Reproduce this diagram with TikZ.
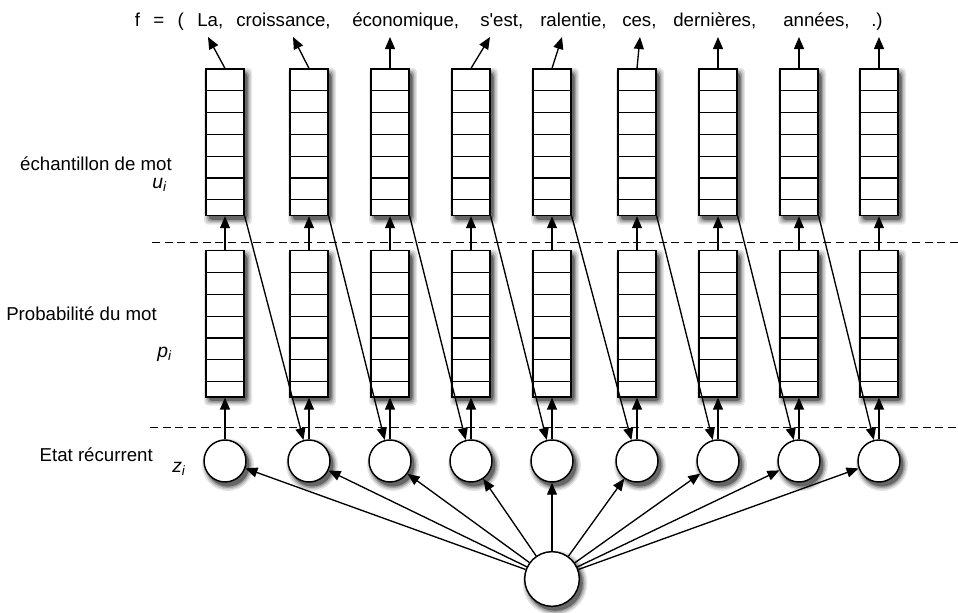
\documentclass[tikz,border=0pt]{standalone}
\usepackage{fontspec}
\setmainfont{Liberation Sans}
\usepackage{tikz}
\usetikzlibrary{positioning,arrows.meta}
\tikzset{
  cellbox/.style={rectangle, draw, fill=white, line width=1.1pt, minimum width=28.5pt, minimum height=109.8pt, inner sep=0pt},
  state/.style={circle, draw, fill=white, line width=1.1pt, minimum size=31.5pt, inner sep=0pt},
  source/.style={state, minimum size=41pt},
  fwd/.style={-{Triangle[length=9pt,width=7.5pt]}, line width=1pt},
  sepline/.style={dashed, dash pattern=on 6pt off 3.5pt, line width=0.9pt},
  word/.style={anchor=base west, inner sep=0pt},
  lab/.style={anchor=base east, inner sep=0pt},
  sym/.style={anchor=base west, inner sep=0pt, font=\fontsize{14.5}{17}\selectfont\itshape},
}

\begin{document}
\begin{tikzpicture}[x=0.75pt, y=-0.75pt, font=\fontsize{14}{17}\selectfont]
  \useasboundingbox (0,0) rectangle (958,612);

  % sentence f
  \node[anchor=base east, inner sep=0pt] (f) at (184,26) {f\hspace{10pt}=\hspace{10pt}(};
  \foreach \i/\wx/\w in {1/197/{La,}, 2/236/{croissance,}, 3/352/{économique,},
      4/480/{s\textquotesingle est,}, 5/540/{ralentie,}, 6/622/{ces,},
      7/673/{dernières,}, 8/783/{années,}, 9/871/{.)}}
    \node[word] (w\i) at (\wx,26) {\w};

  % layer names
  \node[lab] (samplelab) at (172,170) {échantillon de mot};
  \node[sym] (ulab) at (152,188) {u\textsubscript{i}};
  \node[lab] (problab) at (157,320) {Probabilité du mot};
  \node[sym] (plab) at (157,357) {p\textsubscript{i}};
  \node[lab] (statelab) at (153,461) {Etat récurrent};
  \node[sym] (zlab) at (172,472) {z\textsubscript{i}};

  \draw[sepline] (152,242.5) -- (958,242.5);
  \draw[sepline] (150,427.5) -- (958,427.5);

  % columns
  \foreach \i/\x/\tx in {1/225/208, 2/309/293, 3/390/390, 4/471/490, 5/552/562,
      6/637/640, 7/718/718, 8/799/799, 9/879/879} {
    % soft shadows
    \foreach \s/\g in {5/10, 3.5/22, 2/38, 0.5/60} {
      \fill[black!\g, rounded corners=3pt] (\x-19-\s+3,69-\s+4) rectangle (\x+19+\s+3,215.7+\s+4);
      \fill[black!\g, rounded corners=3pt] (\x-19-\s+3,250.7-\s+4) rectangle (\x+19+\s+3,396.7+\s+4);
      \fill[black!\g] (\x+3,465) circle [radius=15.75pt+0.75pt*\s];
    }
    \node[cellbox] (u\i) at (\x,142.3) {};
    \node[cellbox] (p\i) at (\x,323.7) {};
    \node[state] (z\i) at (\x,461) {};
    \foreach \k in {1,...,6} {
      \draw[line width=0.9pt] (\x-19,69+21.8*\k) -- (\x+19,69+21.8*\k);
      \draw[line width=0.9pt] (\x-19,250.7+21.8*\k) -- (\x+19,250.7+21.8*\k);
    }
    \coordinate (t\i) at (\tx,37);
    \draw[fwd] (u\i.north) -- (t\i);
    \draw[fwd] (p\i.north) -- (u\i.south);
    \draw[fwd] (z\i.north) -- (p\i.south);
  }

  \foreach \s/\g in {5/10, 3.5/22, 2/38, 0.5/60}
    \fill[black!\g] (555,583) circle [radius=20.5pt+0.75pt*\s];
  \node[source] (root) at (552,579) {};

  \foreach \i [evaluate=\i as \j using int(\i+1)] in {1,...,8}
    \draw[fwd] (u\i.south east) -- (z\j);
  \foreach \i in {1,...,9}
    \draw[fwd] (root) -- (z\i);
\end{tikzpicture}
\end{document}
